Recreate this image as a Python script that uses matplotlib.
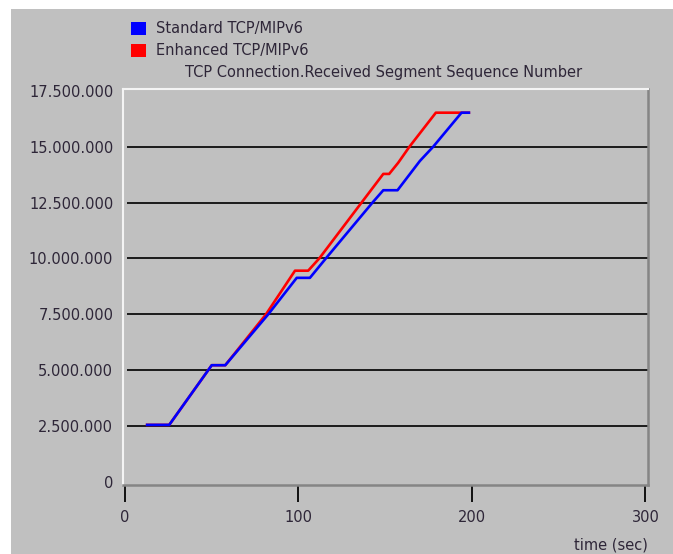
import matplotlib
matplotlib.use("Agg")
import matplotlib.pyplot as plt
from matplotlib.patches import Rectangle
from matplotlib.ticker import FuncFormatter

# received segment sequence number over time (values in bytes)
std_time = [12, 25.5, 50, 57.8, 82.6, 99, 106.6, 115.8, 142.7, 148.9, 157.1, 170, 177.7, 194, 199]
std_seq = [2.55e6, 2.55e6, 5.22e6, 5.22e6, 7.5e6, 9.13e6, 9.13e6, 10.0e6, 12.5e6, 13.05e6,
           13.05e6, 14.36e6, 15.0e6, 16.52e6, 16.52e6]

enh_time = [12, 25.5, 50, 57.8, 81.3, 98, 105.6, 112, 136.4, 148.9, 152.3, 157.5, 164, 179.2, 199]
enh_seq = [2.55e6, 2.55e6, 5.22e6, 5.22e6, 7.5e6, 9.45e6, 9.45e6, 10.0e6, 12.5e6, 13.78e6,
           13.78e6, 14.28e6, 15.0e6, 16.52e6, 16.52e6]

y_ticks = [0, 2.5e6, 5e6, 7.5e6, 10e6, 12.5e6, 15e6, 17.5e6]
x_ticks = [0, 100, 200, 300]

W, H = 673, 554
BG = "#c0c0c0"
TXT = "#2e2638"


def fx(px):
    return px / W


def fy(py):
    return 1 - py / H


fig = plt.figure(figsize=(W / 100, H / 100), dpi=100, facecolor="white")
fig.add_artist(Rectangle((fx(11), 0), 1 - fx(11), fy(9), transform=fig.transFigure,
                         facecolor=BG, edgecolor="none", zorder=-10))

ax = fig.add_axes([fx(123), fy(485), fx(648) - fx(123), fy(89) - fy(485)])
ax.set_facecolor(BG)
ax.set_xlim(-1.15, 301.5)
ax.set_ylim(-0.14e6, 17.58e6)

# horizontal reference lines, not at 0 or the top
for y in y_ticks[1:-1]:
    ax.hlines(y, 1.2, 301.5, color="#1a1a1a", lw=1.4, zorder=1)

ax.plot(enh_time, enh_seq, color="#ff0000", lw=1.9, zorder=2, solid_capstyle="butt")
ax.plot(std_time, std_seq, color="#0000ff", lw=1.9, zorder=3, solid_capstyle="butt")

for side in ("left", "top"):
    ax.spines[side].set_color("#f4f4f4")
    ax.spines[side].set_linewidth(1.5)
for side in ("right", "bottom"):
    ax.spines[side].set_color("#858585")
    ax.spines[side].set_linewidth(1.8)

ax.set_yticks(y_ticks)
ax.yaxis.set_major_formatter(FuncFormatter(lambda v, p: f"{int(round(v)):,}".replace(",", ".")))
ax.tick_params(axis="y", length=0, pad=7, labelsize=10.5, labelcolor=TXT)
ax.set_xticks(x_ticks)
ax.tick_params(axis="x", length=12, width=1.4, color="#111111", pad=6,
               labelsize=10.5, labelcolor=TXT)

fig.text(fx(648), fy(545), "time (sec)", ha="right", va="center", fontsize=10.5, color=TXT)
fig.text(fx(384), fy(73), "TCP Connection.Received Segment Sequence Number",
         ha="center", va="center", fontsize=10.5, color=TXT)

# legend entries
for i, (label, col) in enumerate([("Standard TCP/MIPv6", "#0000ff"),
                                  ("Enhanced TCP/MIPv6", "#ff0000")]):
    top = 22 + i * 22
    fig.add_artist(Rectangle((fx(131), fy(top + 13)), fx(15), 13 / H,
                             transform=fig.transFigure, facecolor=col, edgecolor="none"))
    fig.text(fx(156), fy(top + 6.5), label, ha="left", va="center", fontsize=10.5, color=TXT)

fig.savefig("out.png", dpi=100, facecolor=fig.get_facecolor())
